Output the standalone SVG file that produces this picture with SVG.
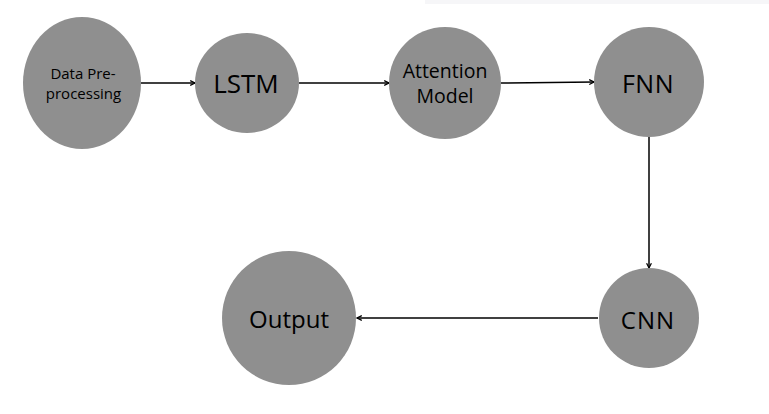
<svg xmlns="http://www.w3.org/2000/svg" width="769" height="414" viewBox="0 0 769 414">
<style>
.node{fill:#8f8f8f}
.lbl{font-family:"Open Sans","Noto Sans",sans-serif;fill:#000;text-anchor:middle;dominant-baseline:central}
.edge{stroke:#000;stroke-width:1.5;fill:none;marker-end:url(#arr)}
</style>
<defs>
<marker id="arr" viewBox="0 0 10 10" refX="9" refY="5" markerWidth="6" markerHeight="6" markerUnits="userSpaceOnUse" orient="auto">
<polyline points="1,1 9,5 1,9" fill="none" stroke="#000" stroke-width="2"/>
</marker>
</defs>
<rect width="769" height="414" fill="#fff"/>
<rect x="425" y="0" width="344" height="4" fill="#f6f6f8"/>
<g id="connectors">
<line class="edge" x1="141" y1="83" x2="195" y2="83"/>
<line class="edge" x1="299" y1="83" x2="389" y2="83"/>
<line class="edge" x1="501" y1="83" x2="594" y2="82"/>
<line class="edge" x1="649" y1="136" x2="649" y2="268"/>
<line class="edge" x1="598" y1="318" x2="357" y2="318"/>
</g>
<g id="data">
<ellipse class="node" cx="82" cy="83" rx="59" ry="66"/>
<text class="lbl" x="83" y="73" font-size="15">Data Pre-</text>
<text class="lbl" x="83.5" y="93" font-size="15">processing</text>
</g>
<g id="lstm">
<ellipse class="node" cx="247" cy="83" rx="52" ry="50"/>
<text class="lbl" x="246" y="83" font-size="26">LSTM</text>
</g>
<g id="attention">
<ellipse class="node" cx="445" cy="83" rx="56" ry="56"/>
<text class="lbl" x="445" y="70" font-size="19.5">Attention</text>
<text class="lbl" x="445" y="95" font-size="19.5">Model</text>
</g>
<g id="fnn">
<ellipse class="node" cx="649" cy="82" rx="55" ry="55"/>
<text class="lbl" x="648" y="83" font-size="25" letter-spacing="0.5">FNN</text>
</g>
<g id="cnn">
<ellipse class="node" cx="649" cy="318" rx="50" ry="50"/>
<text class="lbl" x="648" y="319" font-size="24" letter-spacing="1">CNN</text>
</g>
<g id="output">
<ellipse class="node" cx="289" cy="318" rx="67" ry="67"/>
<text class="lbl" x="289" y="318" font-size="24">Output</text>
</g>
</svg>
